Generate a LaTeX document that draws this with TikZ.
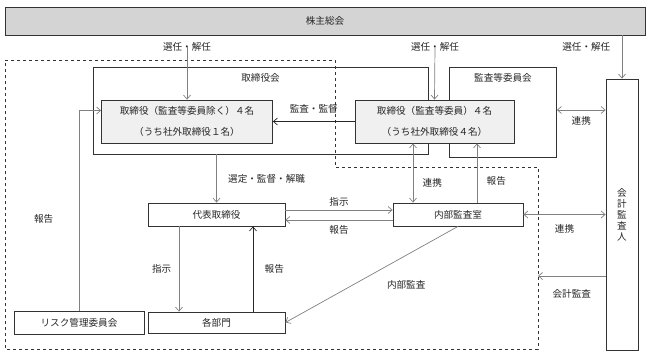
\documentclass[tikz,border=0pt]{standalone}
\usepackage{fontspec}
\setmainfont{Noto Sans CJK JP}
\usetikzlibrary{arrows.meta}

\begin{document}
\begin{tikzpicture}[x=1pt,y=-1pt,>={Straight Barb[length=4pt,width=7pt]},
    every node/.style={font=\fontsize{9.6}{11}\selectfont,text=black!85},
    box/.style={draw=black!80,line width=0.8pt,inner sep=0pt},
    arr/.style={->,draw=black!50,line width=0.7pt},
    arrd/.style={->,draw=black!85,line width=0.7pt},
    link/.style={<->,draw=black!50,line width=0.7pt}]
      \useasboundingbox (0,0) rectangle (651,357);
      % boxes
      \node[box,fill=black!17,minimum width=640pt,minimum height=28pt] (soukai) at (325,21) {株主総会};
      \node[box,minimum width=335pt,minimum height=87pt,label={[below=3pt]north:取締役会}] (torikai) at (260.5,110.5) {};
      \node[box,minimum width=107pt,minimum height=90pt,label={[below=3pt]north:監査等委員会}] (kansakai) at (503,112) {};
      \node[box,fill=black!6,minimum width=171pt,minimum height=43pt,align=center,
            font=\fontsize{9.6}{21}\selectfont] (dir1) at (187,121.5) {取締役（監査等委員除く）４名\\（うち社外取締役１名）};
      \node[box,fill=black!6,minimum width=159pt,minimum height=43pt,align=center,
            font=\fontsize{9.6}{21}\selectfont] (dir2) at (434.5,121.5) {取締役（監査等委員）４名\\（うち社外取締役４名）};
      \node[box,minimum width=137pt,minimum height=23pt] (daihyo) at (216.5,214.5) {代表取締役};
      \node[box,minimum width=130pt,minimum height=23pt] (naibu) at (458,214.5) {内部監査室};
      \node[box,minimum width=137pt,minimum height=21pt] (bumon) at (216.5,322.5) {各部門};
      \node[box,minimum width=130pt,minimum height=23pt] (risk) at (79,322.5) {リスク管理委員会};
      \node[box,minimum width=32pt,minimum height=271pt,align=center] (kaikei) at (622,214.5) {会\\計\\監\\査\\人};
      % dashed area
      \draw[dashed,line width=0.8pt,black!80] (5,60) -- (335,60) -- (335,167) -- (538,167) -- (538,349) -- (5,349) -- cycle;
      \coordinate (dashR) at (538,276);
      % selection
      \node (sen1) at (187,47) {選任・解任};
      \node (sen2) at (435,47) {選任・解任};
      \draw[arr] (sen1.center) -- (dir1.north);
      \draw[arr] (sen2.center) -- (dir2.north);
      \draw[arr] (soukai.south -| kaikei.north) -- node[left=8pt,pos=0.27] {選任・解任} (kaikei.north);
      % connectors
      \draw[arrd] (dir2.west) -- node[above=5pt] {監査・監督} (dir1.east);
      \draw[arr] (risk.north) |- node[pos=0.23,left=22pt] {報告} ([yshift=11pt]dir1.west);
      \draw[arr] (torikai.south -| daihyo.north) -- node[right=8pt] {選定・監督・解職} (daihyo.north);
      \draw[arr] ([yshift=4.5pt]daihyo.east) -- node[above] {指示} ([yshift=4.5pt]naibu.west);
      \draw[arr] ([yshift=-5.5pt]naibu.west) -- node[below=2pt] {報告} ([yshift=-5.5pt]daihyo.east);
      \draw[link] ([xshift=-21.5pt]dir2.south) -- node[pos=0.66,right=6pt] {連携} ([xshift=-21.5pt]dir2.south |- naibu.north);
      \draw[arr] ([xshift=19pt]naibu.north) -- node[pos=0.37,right=6pt] {報告} ([xshift=19pt]naibu.north |- dir2.south);
      \draw[link] ([yshift=2pt]kansakai.east) -- node[below=3pt] {連携} ([yshift=2pt]kansakai.east -| kaikei.west);
      \draw[link] (naibu.east) -- node[below=6pt] {連携} (naibu.east -| kaikei.west);
      \draw[arr] (naibu.south) -- node[pos=0.3,below=22pt] {内部監査} (bumon.east);
      \draw[arr] (kaikei.west |- dashR) -- node[below=10pt] {会計監査} (dashR);
      \draw[arr] ([xshift=-37.5pt]daihyo.south) -- node[left=4pt] {指示} ([xshift=-37.5pt]bumon.north);
      \draw[arrd] ([xshift=36.5pt]bumon.north) -- node[right=8pt] {報告} ([xshift=36.5pt]daihyo.south);
    \end{tikzpicture}
\end{document}
